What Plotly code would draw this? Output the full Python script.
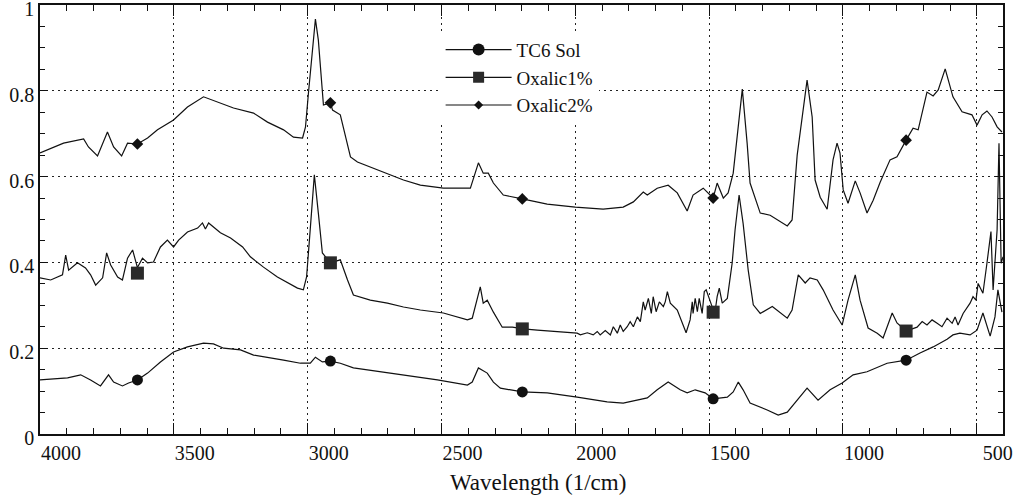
import plotly.graph_objects as go

# ---------------- data ----------------
wn_tc6 = [4000, 3897, 3848, 3811, 3774, 3744, 3725, 3692, 3669, 3636, 3598, 3550, 3501, 3449, 3389,
          3352, 3314, 3251, 3202, 3150, 3090, 3027, 2990, 2971, 2945, 2915, 2878, 2829, 2728, 2605,
          2515, 2403, 2385, 2362, 2329, 2306, 2280, 2198, 2105, 1993, 1881, 1821, 1768, 1731, 1694,
          1653, 1608, 1582, 1552, 1515, 1485, 1432, 1410, 1391, 1373, 1347, 1283, 1242, 1208, 1171,
          1134, 1093, 1048, 1003, 962, 910, 835, 764, 712, 663, 611, 589, 563, 525, 499,
          477, 458, 450, 432, 421, 406]
ab_tc6 = [0.126, 0.131, 0.138, 0.126, 0.112, 0.138, 0.121, 0.112, 0.119, 0.126, 0.142, 0.168, 0.191, 0.203, 0.212,
          0.210, 0.200, 0.196, 0.184, 0.179, 0.172, 0.165, 0.165, 0.179, 0.168, 0.170, 0.165, 0.154, 0.145, 0.133,
          0.126, 0.114, 0.121, 0.154, 0.142, 0.121, 0.107, 0.098, 0.096, 0.086, 0.075, 0.072, 0.079, 0.084, 0.103,
          0.121, 0.103, 0.096, 0.103, 0.096, 0.082, 0.086, 0.098, 0.121, 0.103, 0.072, 0.056, 0.044, 0.051, 0.079,
          0.107, 0.079, 0.103, 0.119, 0.138, 0.145, 0.165, 0.172, 0.189, 0.203, 0.221, 0.231, 0.235, 0.231, 0.242,
          0.282, 0.242, 0.228, 0.273, 0.336, 0.284]

wn_ox1 = [4000, 3960, 3916, 3904, 3893, 3860, 3830, 3811, 3792, 3766, 3751, 3736, 3710, 3692, 3673,
          3654, 3636, 3617, 3598, 3576, 3550, 3524, 3501, 3482, 3449, 3411, 3393, 3382, 3370, 3326,
          3288, 3243, 3214, 3165, 3113, 3075, 3038, 3016, 3004, 2990, 2975, 2960, 2945, 2915, 2878,
          2851, 2829, 2766, 2702, 2642, 2579, 2493, 2403, 2385, 2355, 2344, 2329, 2306, 2273, 2235,
          2194, 2142, 2067, 1993, 1981, 1955, 1933, 1918, 1907, 1888, 1869, 1858, 1843, 1832, 1821,
          1806, 1795, 1783, 1768, 1757, 1746, 1739, 1727, 1716, 1709, 1698, 1686, 1671, 1664, 1656,
          1645, 1619, 1586, 1571, 1563, 1560, 1552, 1544, 1537, 1526, 1518, 1511, 1485, 1477, 1470,
          1462, 1451, 1432, 1414, 1403, 1388, 1373, 1354, 1335, 1309, 1264, 1208, 1190, 1167, 1141,
          1123, 1096, 1074, 1037, 1003, 981, 954, 936, 906, 872, 850, 816, 798, 764, 723,
          704, 686, 667, 648, 630, 611, 592, 581, 570, 551, 525, 514, 503, 495, 477,
          462, 447, 439, 424, 417, 409, 402]
ab_ox1 = [0.364, 0.359, 0.371, 0.417, 0.382, 0.399, 0.387, 0.371, 0.347, 0.364, 0.422, 0.394, 0.366, 0.359, 0.410,
          0.429, 0.388, 0.410, 0.399, 0.401, 0.436, 0.452, 0.436, 0.452, 0.471, 0.480, 0.492, 0.478, 0.492, 0.469,
          0.457, 0.436, 0.413, 0.389, 0.366, 0.352, 0.340, 0.336, 0.366, 0.480, 0.604, 0.515, 0.422, 0.399, 0.406,
          0.359, 0.324, 0.312, 0.305, 0.296, 0.289, 0.282, 0.266, 0.270, 0.343, 0.305, 0.312, 0.284, 0.249, 0.249,
          0.245, 0.242, 0.238, 0.235, 0.231, 0.236, 0.231, 0.239, 0.231, 0.241, 0.231, 0.250, 0.235, 0.254, 0.239,
          0.250, 0.262, 0.250, 0.273, 0.262, 0.308, 0.289, 0.316, 0.281, 0.320, 0.285, 0.308, 0.297, 0.308, 0.332,
          0.305, 0.289, 0.236, 0.266, 0.308, 0.281, 0.316, 0.285, 0.316, 0.281, 0.332, 0.336, 0.290, 0.289, 0.320,
          0.340, 0.305, 0.316, 0.398, 0.476, 0.557, 0.491, 0.382, 0.301, 0.281, 0.297, 0.270, 0.289, 0.371, 0.352,
          0.364, 0.359, 0.336, 0.289, 0.254, 0.312, 0.371, 0.312, 0.247, 0.235, 0.224, 0.282, 0.259, 0.240, 0.249,
          0.262, 0.254, 0.266, 0.258, 0.250, 0.270, 0.258, 0.273, 0.254, 0.281, 0.305, 0.320, 0.312, 0.351, 0.328,
          0.398, 0.472, 0.336, 0.476, 0.678, 0.398, 0.413]

wn_ox2 = [4000, 3912, 3837, 3819, 3785, 3748, 3725, 3695, 3673, 3636, 3598, 3561, 3501, 3449, 3389,
          3337, 3277, 3202, 3150, 3090, 3053, 3019, 3008, 2997, 2982, 2971, 2960, 2945, 2941, 2915,
          2907, 2878, 2840, 2814, 2766, 2717, 2642, 2579, 2493, 2392, 2362, 2344, 2325, 2306, 2269,
          2198, 2105, 2000, 1896, 1821, 1783, 1746, 1731, 1694, 1653, 1619, 1582, 1560, 1522, 1485,
          1470, 1447, 1429, 1410, 1395, 1376, 1358, 1347, 1309, 1272, 1208, 1190, 1171, 1160, 1134,
          1115, 1104, 1085, 1059, 1037, 1022, 1011, 999, 981, 954, 936, 910, 887, 861, 824,
          798, 764, 738, 719, 686, 663, 644, 618, 589, 555, 518, 499, 480, 462, 443,
          424, 406]
ab_ox2 = [0.655, 0.678, 0.688, 0.669, 0.648, 0.704, 0.669, 0.648, 0.678, 0.676, 0.690, 0.709, 0.732, 0.762, 0.786,
          0.774, 0.760, 0.748, 0.727, 0.709, 0.692, 0.690, 0.716, 0.795, 0.895, 0.967, 0.918, 0.809, 0.767, 0.772,
          0.755, 0.744, 0.646, 0.634, 0.622, 0.611, 0.592, 0.580, 0.573, 0.573, 0.632, 0.608, 0.608, 0.585, 0.557,
          0.548, 0.536, 0.529, 0.524, 0.529, 0.541, 0.564, 0.557, 0.573, 0.580, 0.562, 0.520, 0.557, 0.573, 0.550,
          0.585, 0.550, 0.562, 0.608, 0.692, 0.804, 0.678, 0.585, 0.515, 0.510, 0.485, 0.499, 0.650, 0.702, 0.825,
          0.739, 0.592, 0.552, 0.524, 0.639, 0.678, 0.655, 0.569, 0.538, 0.590, 0.562, 0.515, 0.545, 0.587, 0.639,
          0.646, 0.685, 0.713, 0.709, 0.797, 0.788, 0.802, 0.851, 0.786, 0.751, 0.744, 0.720, 0.744, 0.753, 0.739,
          0.716, 0.704]

mk_wn = [3636, 2915, 2198, 1485, 764]
mk_tc6 = [0.126, 0.170, 0.098, 0.082, 0.172]
mk_ox1 = [0.375, 0.399, 0.245, 0.284, 0.240]
mk_ox2 = [0.676, 0.772, 0.548, 0.550, 0.685]

x_ticks = [4000, 3500, 3000, 2500, 2000, 1500, 1000, 500]
y_ticks = [0, 0.2, 0.4, 0.6, 0.8, 1]
y_ticktext = ["0", "0.2", "0.4", "0.6", "0.8", "1"]

names = ["TC6 Sol", "Oxalic1%", "Oxalic2%"]
series = [(wn_tc6, ab_tc6, mk_tc6), (wn_ox1, ab_ox1, mk_ox1), (wn_ox2, ab_ox2, mk_ox2)]
symbols = ["circle", "square", "diamond"]
plot_sizes = [11, 13, 9]
legend_sizes = [12, 11, 7]
mk_colors = ["#111111", "#2a2a2a", "#111111"]

SERIF = "Times New Roman"

fig = go.Figure()
for (wn, ab, mk), nm, sym, ps, ls, mc in zip(series, names, symbols, plot_sizes, legend_sizes, mk_colors):
    fig.add_trace(go.Scatter(x=wn, y=ab, mode="lines", line=dict(color="#111111", width=1.2),
                             showlegend=False, hoverinfo="skip"))
    fig.add_trace(go.Scatter(x=mk_wn, y=mk, mode="markers",
                             marker=dict(symbol=sym, size=ps, color=mc, line=dict(width=0)),
                             showlegend=False, hoverinfo="skip"))
    fig.add_trace(go.Scatter(x=[None], y=[None], mode="lines+markers", name=nm,
                             line=dict(color="#111111", width=1.2),
                             marker=dict(symbol=sym, size=ls, color=mc, line=dict(width=0))))

fig.update_layout(
    width=1017, height=501,
    margin=dict(l=40, r=14, t=5, b=67),
    paper_bgcolor="white", plot_bgcolor="white",
    font=dict(family=SERIF, color="#111111", size=20),
    showlegend=True,
    legend=dict(x=0.416, y=0.94, xanchor="left", yanchor="top",
                bgcolor="white", borderwidth=0,
                font=dict(family=SERIF, size=19, color="#111111"),
                itemwidth=66, tracegroupgap=0,
                itemclick=False, itemdoubleclick=False),
)

fig.update_xaxes(
    range=[4000, 402], tickmode="array", tickvals=x_ticks, ticktext=[str(v) for v in x_ticks],
    ticks="inside", ticklen=11, tickwidth=1, tickcolor="#111111",
    showline=True, linecolor="#111111", linewidth=1.5, mirror="allticks",
    showgrid=True, gridcolor="#222222", gridwidth=1, griddash="2px,4px",
    zeroline=False, automargin=False,
    tickfont=dict(family=SERIF, size=20),
    ticklabelshift=-21, ticklabeloverflow="allow",
    minor=dict(tickmode="linear", dtick=100, tick0=0, ticks="inside", ticklen=6,
               tickcolor="#111111", showgrid=False),
)
fig.update_yaxes(
    range=[0, 1], tickmode="array", tickvals=y_ticks, ticktext=y_ticktext,
    ticks="inside", ticklen=8, tickwidth=1, tickcolor="#111111",
    showline=True, linecolor="#111111", linewidth=1.5, mirror="allticks",
    showgrid=True, gridcolor="#222222", gridwidth=1, griddash="2px,4px",
    zeroline=False, automargin=False,
    tickfont=dict(family=SERIF, size=20), ticklabeloverflow="allow",
    ticklabelshift=4,
    minor=dict(tickmode="linear", dtick=0.05, tick0=0, ticks="inside", ticklen=5,
               tickcolor="#111111", showgrid=False),
)

fig.add_annotation(text="Wavelength (1/cm)", xref="paper", yref="paper",
                   x=0.517, y=-0.114, xanchor="center", yanchor="middle",
                   showarrow=False, font=dict(family=SERIF, size=23, color="#111111"))

fig.write_html("out.html", config={"displayModeBar": False},
               post_script="document.body.style.margin='0';")
